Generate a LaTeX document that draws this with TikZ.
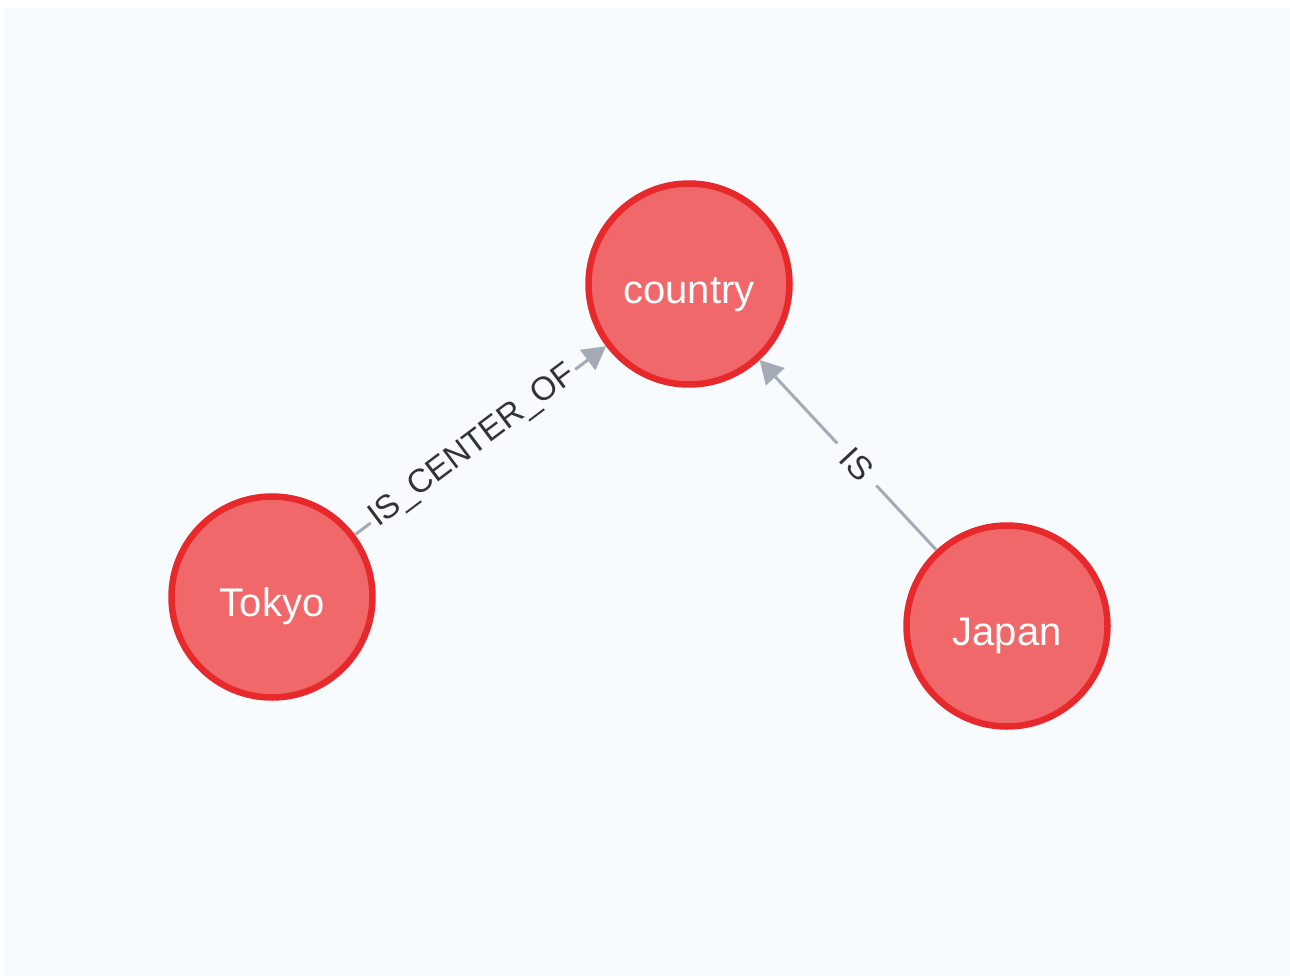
\documentclass[tikz,border=0pt]{standalone}
\usepackage{fontspec}
\setmainfont{Liberation Sans}
\usetikzlibrary{arrows.meta}
\definecolor{bgc}{HTML}{F7FBFE}
\definecolor{nodefill}{HTML}{F0686A}
\definecolor{nodeborder}{HTML}{E8292B}
\definecolor{edgec}{HTML}{A5ABB6}
\definecolor{labelc}{HTML}{333333}
\tikzset{
  graphnode/.style={circle, draw=nodeborder, fill=nodefill, line width=6.5pt,
    minimum size=201pt, inner sep=0pt, text=white, text height=38pt, text depth=0pt,
    font=\fontsize{40}{42}\selectfont},
  edge/.style={draw=edgec, line width=3pt, -{Triangle[length=23pt,width=25pt]}},
  elabel/.style={fill=bgc, text=labelc, font=\fontsize{33}{35}\selectfont, inner ysep=2pt, sloped}
}
\begin{document}
\begin{tikzpicture}[x=1pt,y=-1pt]
\useasboundingbox (0,0) rectangle (1290,976);
\fill[white] (0,0) rectangle (1290,976);
\fill[bgc] (4,8) rectangle (1290,976);
\node[graphnode] (country) at (689,284) {country};
\node[graphnode] (tokyo) at (272,597) {Tokyo};
\node[graphnode] (japan) at (1007,626) {Japan};
\draw[edge] (tokyo) -- node[elabel, pos=0.47, inner xsep=3pt] {IS\_CENTER\_OF} (country);
\draw[edge] (japan) -- node[elabel, pos=0.45, inner xsep=13pt] {IS} (country);
\end{tikzpicture}
\end{document}
